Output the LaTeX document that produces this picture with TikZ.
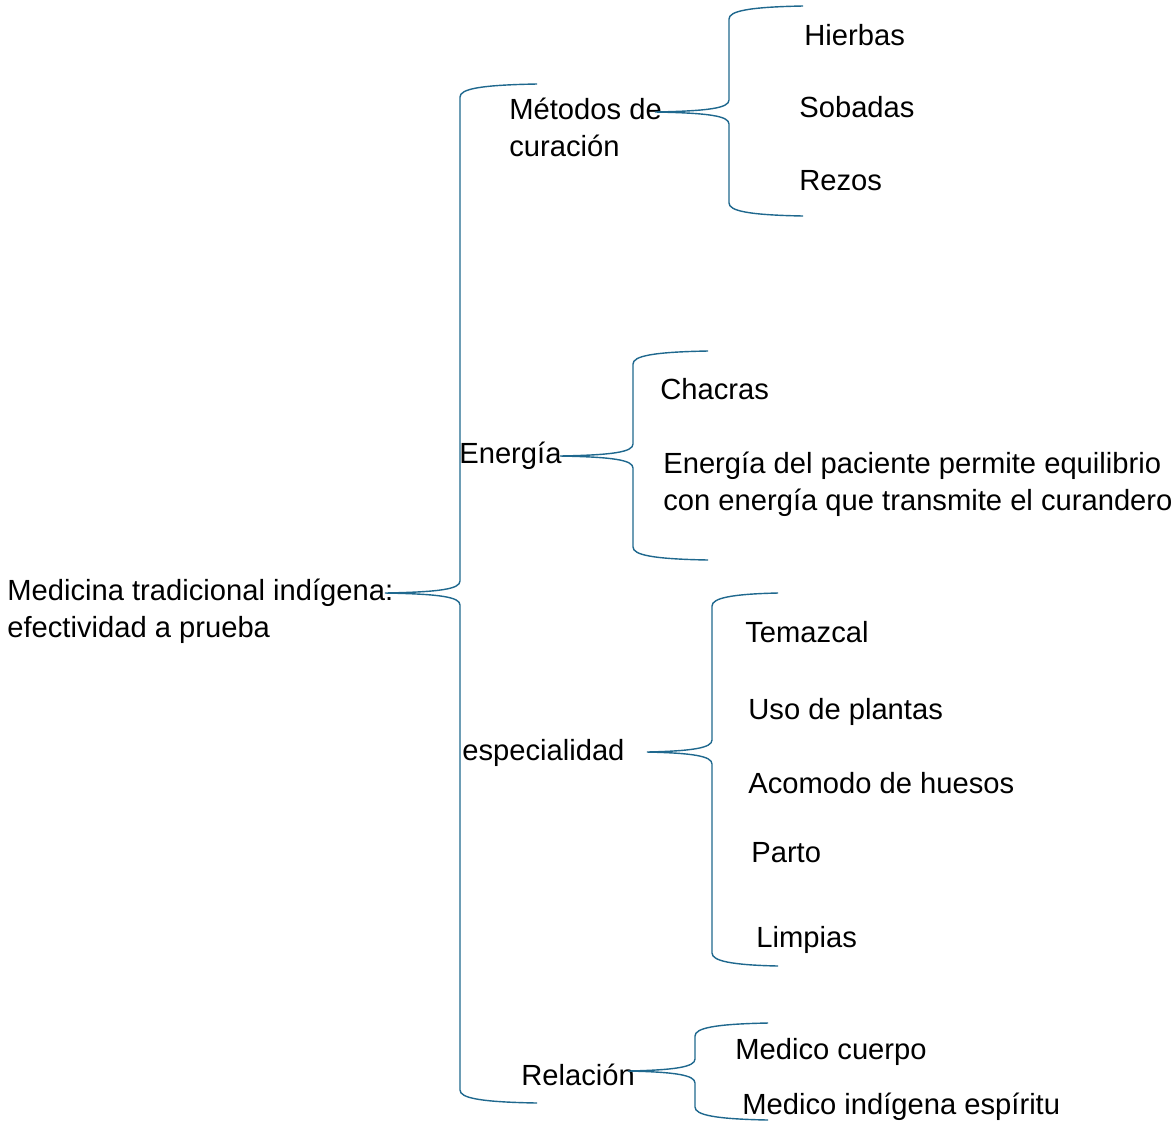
\documentclass[tikz,border=0pt]{standalone}
\usepackage{fontspec}
\setmainfont{Liberation Sans}
\definecolor{llavecol}{RGB}{31,104,142}
% llave: tip x, tip y, bar x, top y, bottom y, end x
\newcommand{\llave}[6]{%
	\draw[llave] (#6,#4) .. controls (#3+20,#4+1) and (#3,#4+5) .. (#3,#4+13)
	-- (#3,#2-12) .. controls (#3,#2-4) and (#3-20,#2-1) .. (#1,#2)
	.. controls (#3-20,#2+1) and (#3,#2+4) .. (#3,#2+12)
	-- (#3,#5-13) .. controls (#3,#5-5) and (#3+20,#5-1) .. (#6,#5);}
\begin{document}
\begin{tikzpicture}[x=0.02cm,y=-0.02cm,
		every node/.style={inner sep=0pt,anchor=base west,align=left,
			font=\fontsize{16.6}{20.6}\selectfont},
		llave/.style={draw=llavecol,line width=0.8pt}]
			\useasboundingbox (0,0) rectangle (1175,1123);
			% tema central (base = ultima linea)
			\node (raiz) at (7,637) {Medicina tradicional indígena:\\efectividad a prueba};
			% ramas
			\node (metodos) at (509,156) {Métodos de\\curación};
			\node (energia) at (459,463) {Energía};
			\node (especial) at (462,760) {especialidad};
			\node (relacion) at (521,1085) {Relación};
			% hojas
			\node (hierbas) at (804,45) {Hierbas};
			\node (sobadas) at (799,117) {Sobadas};
			\node (rezos) at (799,190) {Rezos};
			\node (chacras) at (660,399) {Chacras};
			\node (equilibrio) at (663,510) {Energía del paciente permite equilibrio\\con energía que transmite el curandero};
			\node (temazcal) at (745,642) {Temazcal};
			\node (plantas) at (748,719) {Uso de plantas};
			\node (huesos) at (748,793) {Acomodo de huesos};
			\node (parto) at (751,862) {Parto};
			\node (limpias) at (756,947) {Limpias};
			\node (cuerpo) at (735,1059) {Medico cuerpo};
			\node (espiritu) at (742,1114) {Medico indígena espíritu};
			% llaves
			\llave{385}{593}{460}{84}{1103}{537}
			\llave{655}{112}{729}{6}{216}{803}
			\llave{560}{456}{633}{351}{560}{708}
			\llave{647}{752}{712}{593}{966}{778}
			\llave{628}{1071}{695}{1023}{1120}{768}
		\end{tikzpicture}
\end{document}
